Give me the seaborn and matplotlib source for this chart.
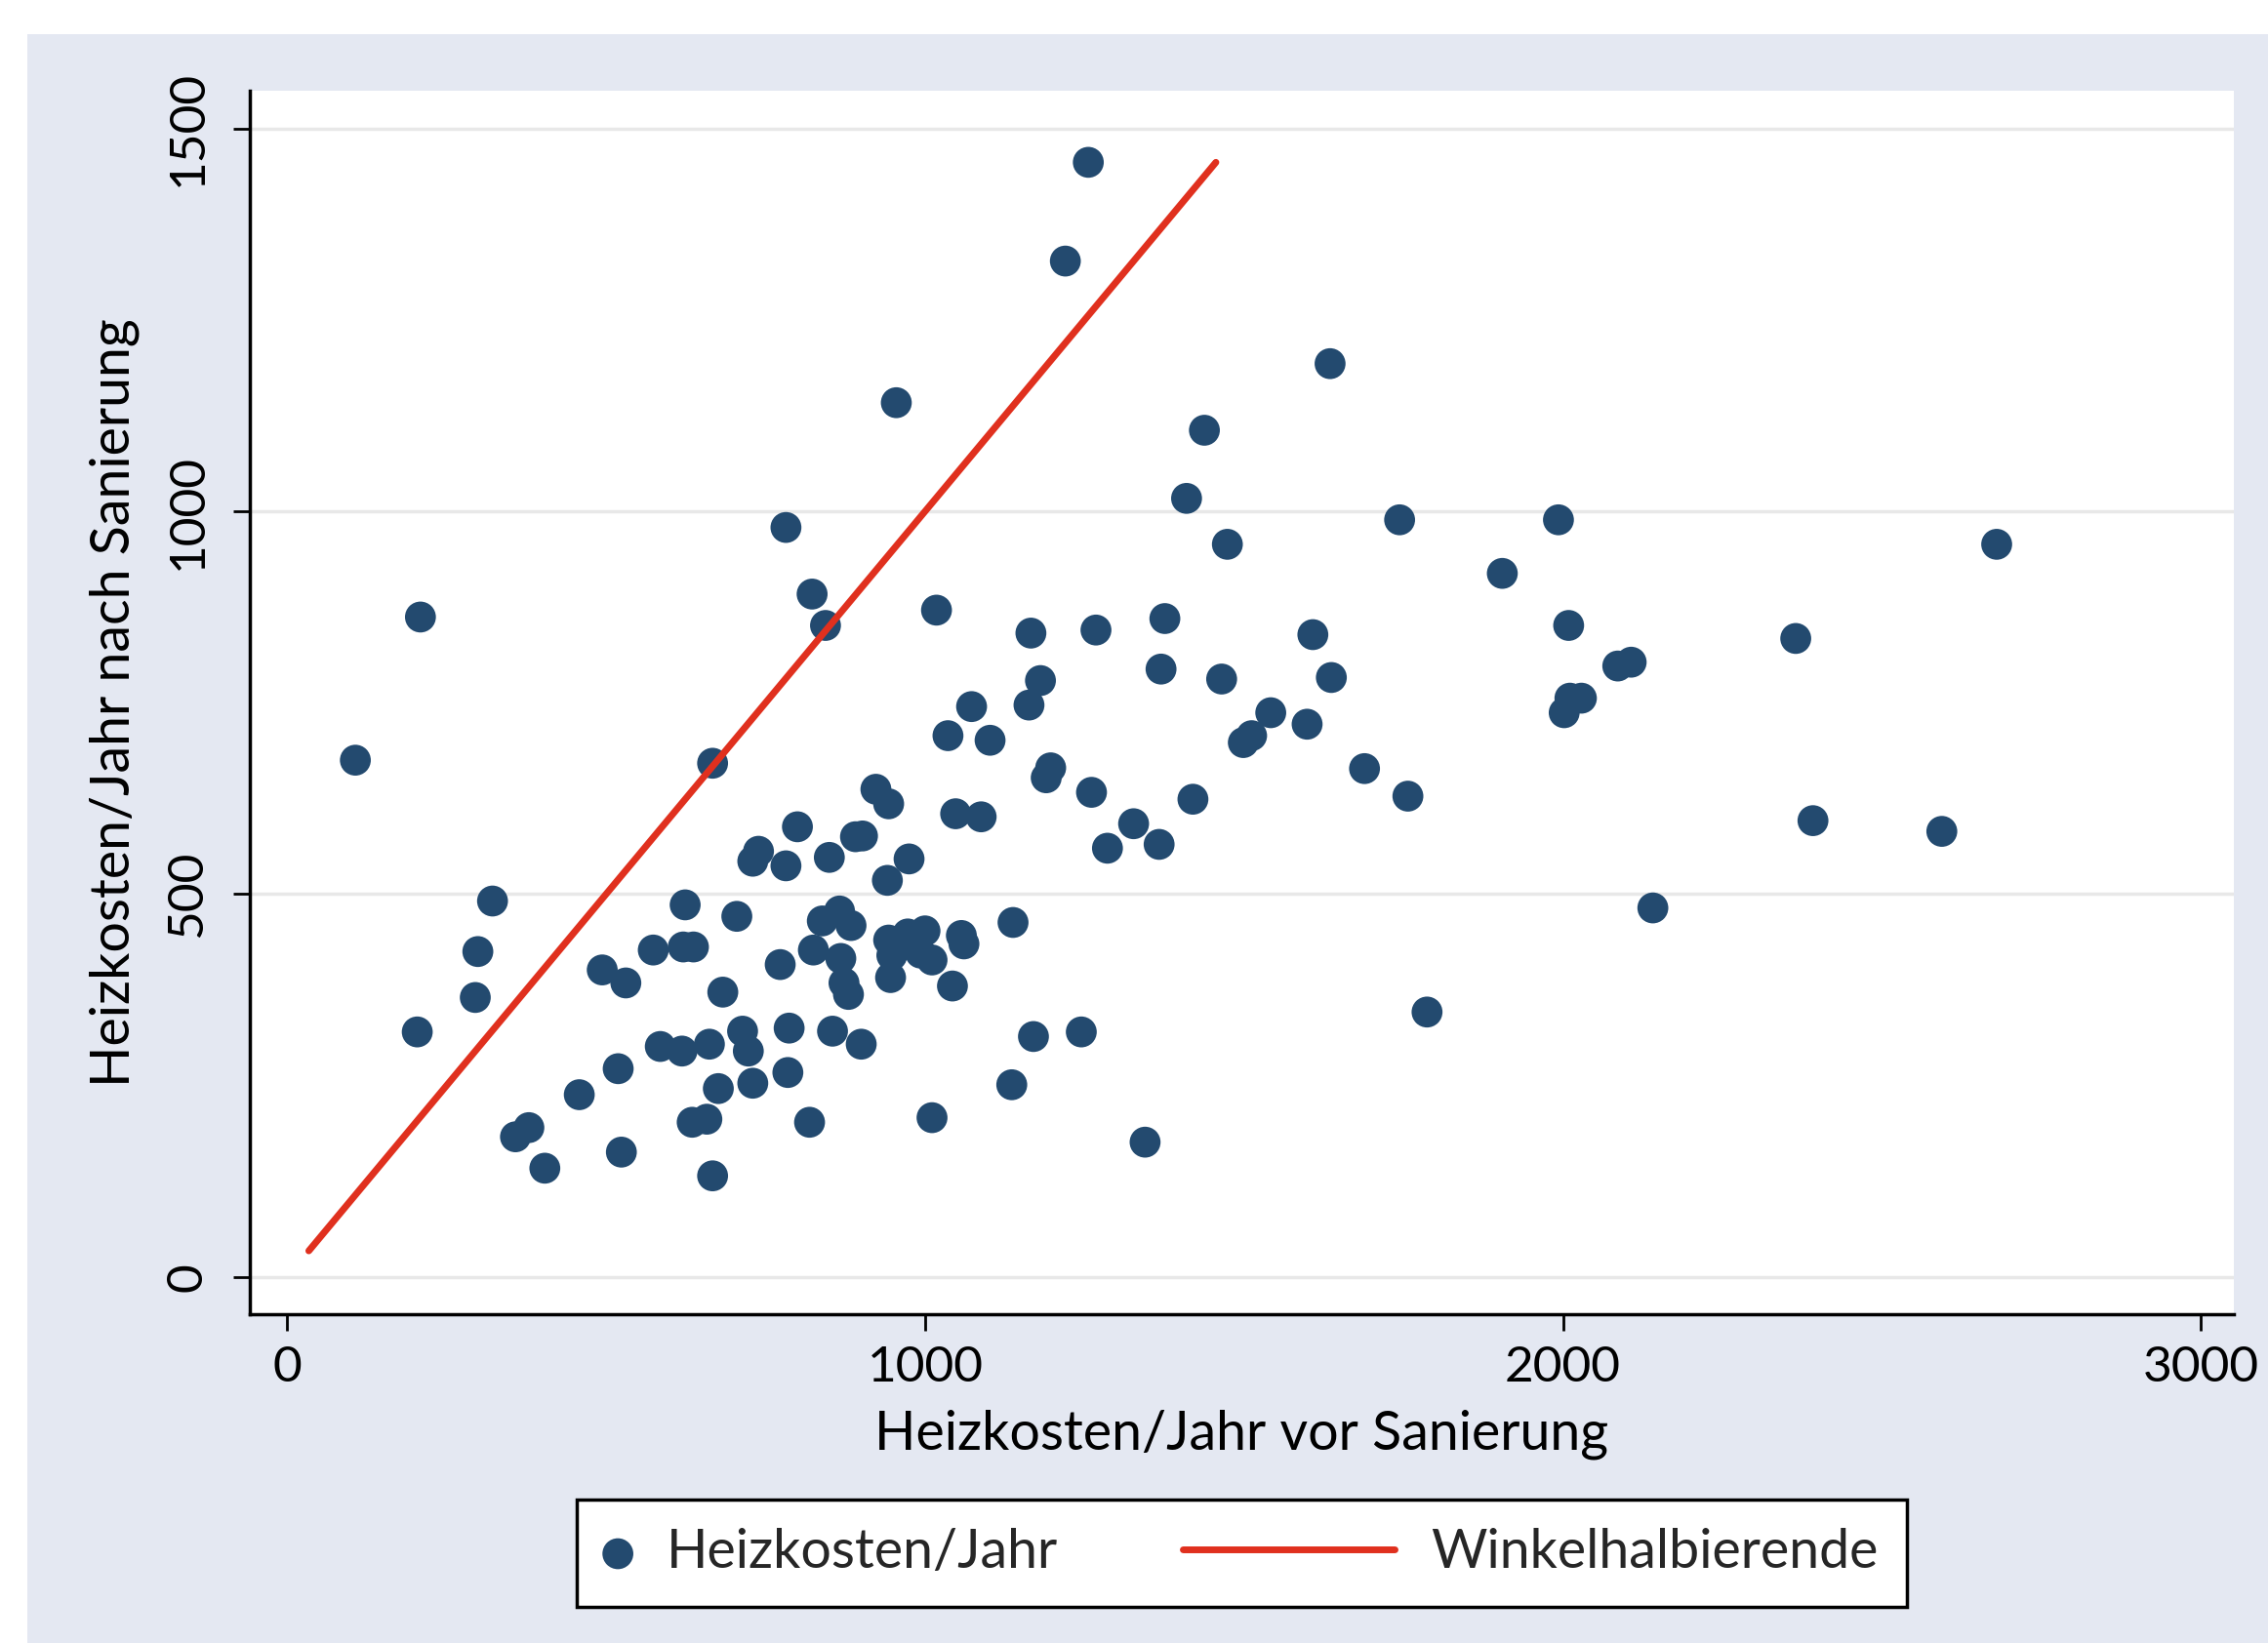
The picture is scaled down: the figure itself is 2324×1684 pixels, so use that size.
import numpy as np
import matplotlib.pyplot as plt
import seaborn as sns
import pandas as pd
from matplotlib.patches import Rectangle
from matplotlib.legend_handler import HandlerLine2D

# Heizkosten vor / nach Sanierung
vor = [107, 209, 204, 295, 299, 322, 358, 379, 404, 458, 494, 519, 524, 531, 574, 585, 619, 624,
       621, 637, 635, 658, 667, 662, 667, 676, 683, 705, 714, 723, 730, 730, 739, 773, 782, 782,
       785, 787, 800, 819, 823, 825, 839, 844, 850, 855, 866, 868, 873, 880, 884, 891, 902, 900,
       923, 943, 941, 943, 948, 946, 955, 973, 975, 993, 1000, 1011, 1011, 1018, 1036, 1043, 1048,
       1057, 1061, 1073, 1088, 1102, 1136, 1138, 1163, 1166, 1170, 1181, 1190, 1197, 1220, 1245,
       1256, 1261, 1268, 1286, 1327, 1345, 1367, 1370, 1376, 1410, 1420, 1438, 1465, 1474, 1499,
       1512, 1542, 1599, 1608, 1635, 1637, 1689, 1744, 1757, 1787, 1905, 1993, 2002, 2009, 2011,
       2029, 2086, 2107, 2141, 2365, 2392, 2594, 2680]
nach = [675, 862, 320, 365, 425, 491, 183, 195, 142, 238, 401, 272, 163, 384, 427, 301, 295, 486,
        431, 431, 202, 206, 132, 304, 671, 246, 372, 471, 321, 295, 253, 543, 556, 408, 537, 979,
        267, 325, 588, 202, 892, 427, 465, 851, 548, 321, 478, 416, 384, 369, 459, 575, 576, 304,
        637, 618, 518, 440, 420, 391, 1142, 448, 546, 423, 452, 414, 208, 871, 707, 380, 605,
        446, 435, 745, 601, 701, 251, 463, 747, 841, 314, 779, 652, 665, 1327, 320,
        1456, 633, 845, 560, 592, 176, 565, 794, 860, 1017, 624, 1106, 781, 957, 698,
        707, 737, 722, 839, 1193, 783, 664, 989, 628, 346, 919, 989, 737, 851, 756,
        756, 798, 803, 482, 834, 596, 582, 957]

# Winkelhalbierende
diag_x = [34, 1456]
diag_y = [34, 1456]

navy = '#234a6f'
red = '#e0301e'


# Legendenlinie laenger als der Marker-Platz, nach links verlaengert
class LongLine(HandlerLine2D):
    def get_xdata(self, legend, xdescent, ydescent, width, height, fontsize):
        x = np.array([-xdescent + width - 3.9 * fontsize, -xdescent + width])
        return x, x


sns.set_style('white')
plt.rcParams['font.family'] = ['Lato', 'DejaVu Sans']

fig = plt.figure(figsize=(23.24, 16.84), dpi=100)
fig.patch.set_facecolor('white')
bg = Rectangle((28 / 2324, 0), 1, 1 - 35 / 1684, transform=fig.transFigure,
               facecolor='#e4e8f2', edgecolor='none', zorder=-10)
fig.add_artist(bg)
ax = fig.add_axes([0.110, 0.200, 0.875, 0.745])
ax.set_facecolor('white')

df = pd.DataFrame({'vor': vor, 'nach': nach})
sns.scatterplot(data=df, x='vor', y='nach', ax=ax, color=navy, s=520, edgecolor='none',
                label='Heizkosten/Jahr', zorder=3)
sns.lineplot(x=diag_x, y=diag_y, ax=ax, color=red, linewidth=5, label='Winkelhalbierende',
             zorder=4)

ax.set_xlim(-59, 3052)
ax.set_ylim(-49, 1550)
ax.set_xticks([0, 1000, 2000, 3000])
ax.set_yticks([0, 500, 1000, 1500])
ax.yaxis.grid(True, color='#e8e8e8', linewidth=2.5, zorder=0)
ax.xaxis.grid(False)
ax.set_axisbelow(True)
for side in ['top', 'right']:
    ax.spines[side].set_visible(False)
for side in ['left', 'bottom']:
    ax.spines[side].set_color('black')
    ax.spines[side].set_linewidth(2.5)
ax.tick_params(axis='both', direction='out', length=12, width=2, labelsize=37, colors='black',
               left=True, bottom=True)
ax.tick_params(axis='y', pad=17)
ax.tick_params(axis='x', pad=11)
plt.setp(ax.get_yticklabels(), rotation=90, va='center')

ax.set_xlabel('Heizkosten/Jahr vor Sanierung', fontsize=40, labelpad=14, color='black')
ax.set_ylabel('Heizkosten/Jahr nach Sanierung', fontsize=40, labelpad=19, color='black')

handles, labels = ax.get_legend_handles_labels()
leg = ax.legend(handles, labels, loc='upper center', bbox_to_anchor=(0.5, -0.151), ncol=2,
                fontsize=40, frameon=True, fancybox=False, framealpha=1, edgecolor='black',
                markerscale=1, handlelength=0.45, handletextpad=0.67, columnspacing=5.75,
                borderpad=0.53, borderaxespad=0,
                handler_map={handles[1]: LongLine()})
leg.get_frame().set_linewidth(2.5)

fig.savefig('out.png', dpi=100, facecolor=fig.get_facecolor())
